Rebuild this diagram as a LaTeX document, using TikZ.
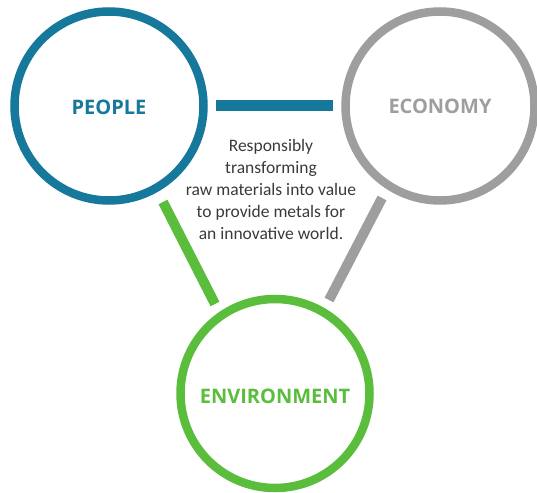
\documentclass[tikz,border=0pt]{standalone}
\usepackage{fontspec}
\setmainfont{Open Sans}
\newfontfamily\bodyfont{Carlito}
\definecolor{pblue}{HTML}{16789B}
\definecolor{egray}{HTML}{9E9E9E}
\definecolor{egreen}{HTML}{5BBD3C}
\definecolor{txt}{HTML}{3A3A3A}
\begin{document}
\begin{tikzpicture}[x=1pt,y=-1pt,
  ring/.style={circle,line width=8.5pt,minimum size=189pt,inner sep=0pt},
  lab/.style={inner sep=0pt,font=\fontsize{20}{22}\selectfont\bfseries},
  link/.style={line width=10pt}]
\useasboundingbox (0,0) rectangle (537,492);
\node[ring,draw=pblue] (people) at (109,106) {};
\node[ring,draw=egray] (economy) at (440,106) {};
\node[ring,draw=egreen] (env) at (275,393.5) {};
\node[lab,text=pblue] (peoplelab) at ([yshift=-1pt]people.center) {PEOPLE};
\node[lab,text=egray] (economylab) at ([yshift=-0.5pt]economy.center) {ECONOMY};
\node[lab,text=egreen] (envlab) at ([yshift=-3pt]env.center) {ENVIRONMENT};
\coordinate (b1) at (216,105.5);
\coordinate (b2) at (333,105.5);
\coordinate (g1) at (163,202);
\coordinate (g2) at (215,304);
\coordinate (y1) at (382,198);
\coordinate (y2) at (329,300);
\draw[link,draw=pblue] (b1) -- (b2);
\draw[link,draw=egreen] (g1) -- (g2);
\draw[link,draw=egray] (y1) -- (y2);
\node[align=center,text=txt,font=\bodyfont\fontsize{17.5}{22}\selectfont] (mission) at (271,189)
  {Responsibly\\transforming\\raw materials into value\\to provide metals for\\an innovative world.};
\end{tikzpicture}
\end{document}
